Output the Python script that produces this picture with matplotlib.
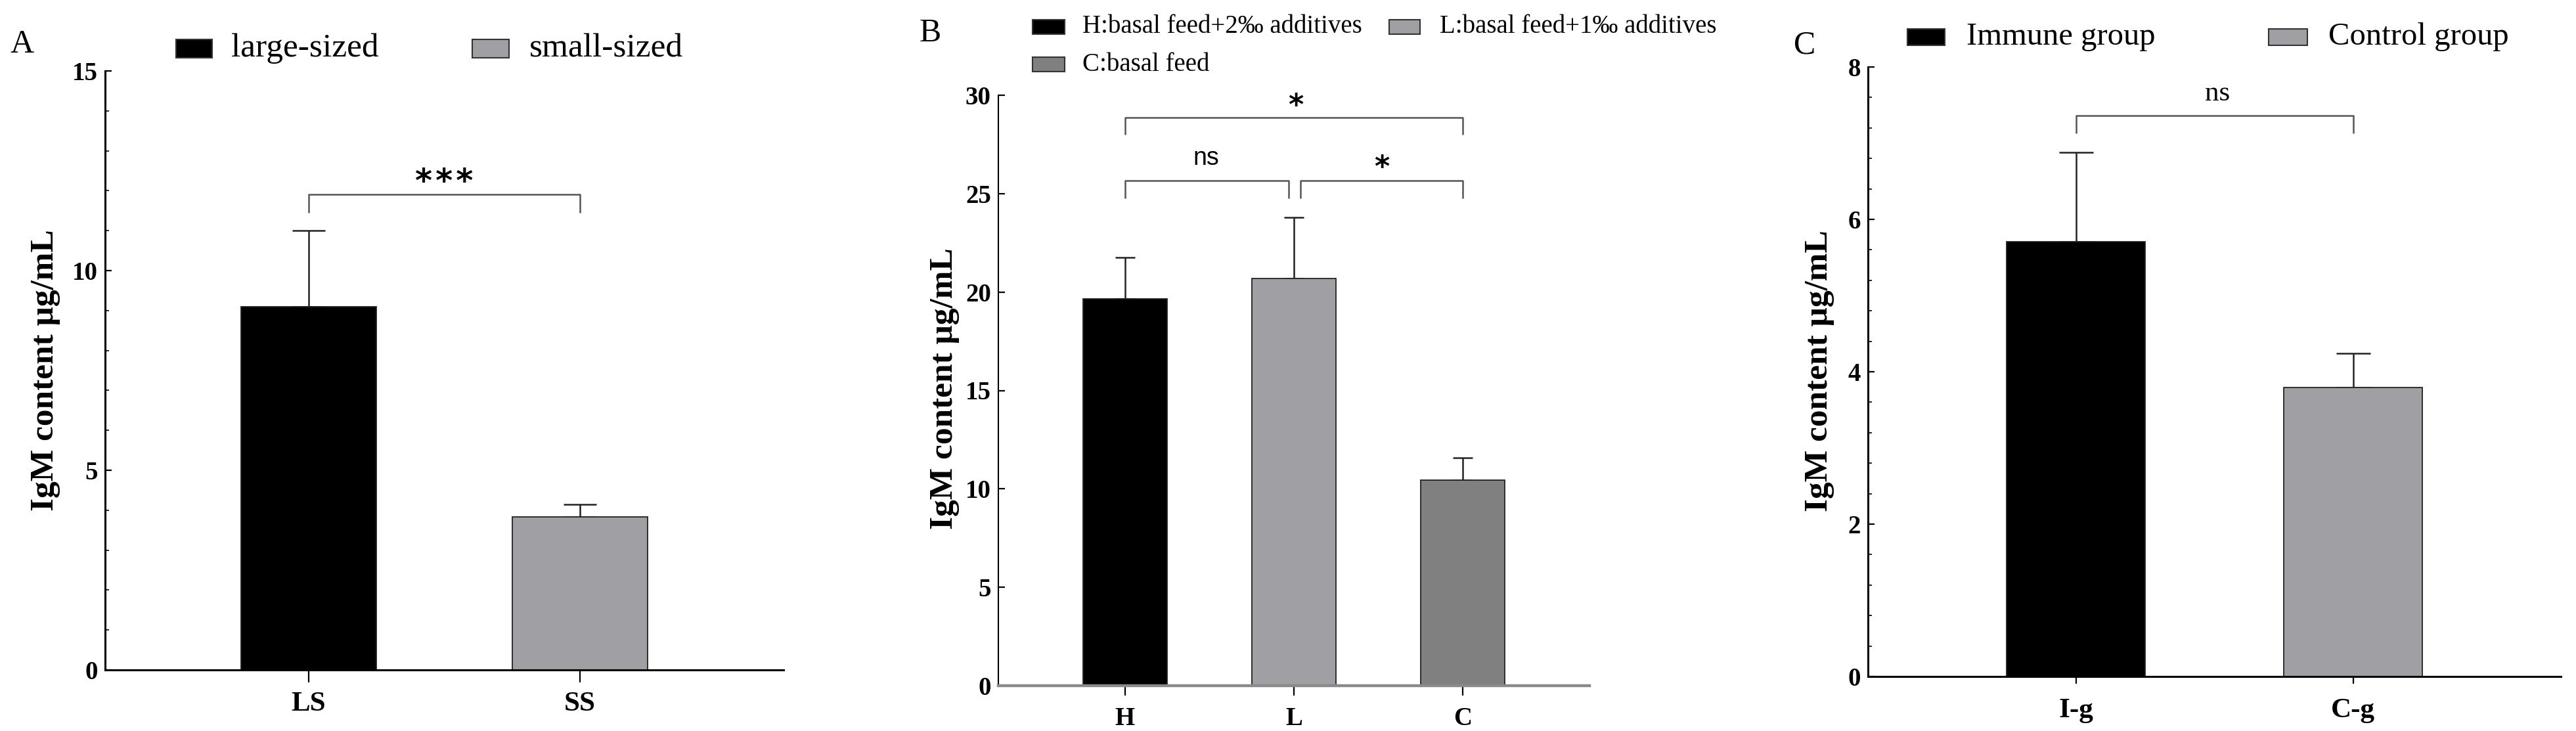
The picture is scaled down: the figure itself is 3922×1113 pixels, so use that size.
import matplotlib
matplotlib.use("Agg")
import matplotlib.pyplot as plt
from matplotlib.patches import Rectangle
from matplotlib.ticker import MultipleLocator

# panel A
cats_a = ["LS", "SS"]
mean_a = [9.10, 3.83]
err_a = [1.90, 0.32]
legend_a = ["large-sized", "small-sized"]

# panel B
cats_b = ["H", "L", "C"]
mean_b = [19.66, 20.70, 10.46]
err_b = [2.10, 3.08, 1.13]
legend_b = ["H:basal feed+2\u2030 additives", "L:basal feed+1\u2030 additives", "C:basal feed"]

# panel C
cats_c = ["I-g", "C-g"]
mean_c = [5.71, 3.79]
err_c = [1.17, 0.45]
legend_c = ["Immune group", "Control group"]

ylabel = "IgM content \u03bcg/mL"
SERIF = "Liberation Serif"
W, H = 3922, 1113

plt.rcParams["font.family"] = [SERIF, "DejaVu Serif"]

fig = plt.figure(figsize=(W / 100, H / 100), dpi=100)


def fx(px):
    return px / W


def fy(py):
    return 1 - py / H


def make_ax(l, r, b, t):
    return fig.add_axes([fx(l), fy(b), fx(r) - fx(l), fy(t) - fy(b)])


def style(ax, ymax, major, minor, xcol="black", xlw=2.2, ylw=2.2, xtl=14, ticksize=28):
    for s in ["top", "right"]:
        ax.spines[s].set_visible(False)
    ax.spines["left"].set_linewidth(ylw)
    ax.spines["bottom"].set_linewidth(xlw)
    ax.spines["bottom"].set_color(xcol)
    ax.set_ylim(0, ymax)
    ax.yaxis.set_major_locator(MultipleLocator(major))
    if minor:
        ax.yaxis.set_minor_locator(MultipleLocator(minor))
    ax.tick_params(axis="y", direction="in", length=7, width=1.6, pad=8,
                   labelsize=ticksize)
    ax.tick_params(axis="y", which="minor", direction="in", length=4, width=1.2)
    ax.tick_params(axis="x", direction="out", length=xtl, width=1.6, pad=10,
                   labelsize=31)
    for lab in ax.get_yticklabels() + ax.get_xticklabels():
        lab.set_fontweight("bold")


def bars(ax, means, errs, colors, width=0.5, capsize=18, elw=1.8):
    x = list(range(len(means)))
    ax.errorbar(x, means, yerr=[[0] * len(means), errs], fmt="none",
                ecolor="#222222", elinewidth=elw, capsize=capsize,
                capthick=elw, zorder=1)
    ax.bar(x, means, width=width, color=colors, edgecolor="#222222",
           linewidth=1.3, zorder=2)
    return x


def bracket(ax, x0, x1, y, drop, color="#555555"):
    ax.plot([x0, x0, x1, x1], [y - drop, y, y, y - drop], color=color,
            lw=1.8, solid_capstyle="butt", zorder=3)


def legend_item(px, py0, py1, color, label, tx, size):
    fig.patches.append(Rectangle((fx(px[0]), fy(py1)), fx(px[1]) - fx(px[0]),
                                 fy(py0) - fy(py1), transform=fig.transFigure,
                                 facecolor=color, edgecolor="#333333", lw=1.5))
    fig.text(fx(tx), fy((py0 + py1) / 2), label, fontsize=size, va="center",
             ha="left")


# ---------------- Panel A ----------------
ax1 = make_ax(160, 1193, 1020, 108)
x = bars(ax1, mean_a, err_a, ["black", "#a0a0a4"], capsize=18)
ax1.set_xlim(-0.75, 1.75)
ax1.set_xticks(x)
ax1.set_xticklabels(cats_a)
style(ax1, 15, 5, 1, xtl=14)
bracket(ax1, 0, 1, 11.9, 0.45)
ax1.text(0.5, 12.2, "*\u200a*\u200a*", ha="center", va="center", fontsize=36,
         fontweight="bold", family="DejaVu Sans")
fig.text(fx(69), fy(564), ylabel, rotation=90, ha="center", va="center",
         fontsize=37, fontweight="bold")
fig.text(fx(15), fy(80), "A", fontsize=36, ha="left", va="baseline")
legend_item((268, 323), 60, 88, "black", legend_a[0], 352, 37)
legend_item((719, 775), 60, 88, "#a0a0a4", legend_a[1], 806, 37)

# ---------------- Panel B ----------------
ax2 = make_ax(1520, 2420, 1044, 145)
x = bars(ax2, mean_b, err_b, ["black", "#a0a0a4", "#808080"], capsize=11)
ax2.set_xlim(-0.75, 2.75)
ax2.set_xticks(x)
ax2.set_xticklabels(cats_b)
style(ax2, 30, 5, None, xcol="#8a8a8a", xlw=3.2, ylw=1.5, xtl=11, ticksize=28)
ax2.tick_params(axis="x", labelsize=28, pad=12)
bracket(ax2, 0, 2, 28.85, 0.85)
bracket(ax2, 0, 0.97, 25.65, 0.9)
bracket(ax2, 1.04, 2, 25.65, 0.9)
ax2.text(1.01, 29.45, "*", ha="center", va="center", fontsize=32,
         fontweight="bold", family="DejaVu Sans")
ax2.text(0.48, 26.8, "ns", ha="center", va="center", fontsize=27,
         family="Liberation Sans")
ax2.text(1.52, 26.3, "*", ha="center", va="center", fontsize=32,
         fontweight="bold", family="DejaVu Sans")
fig.text(fx(1438), fy(592), ylabel, rotation=90, ha="center", va="center",
         fontsize=37, fontweight="bold")
fig.text(fx(1400), fy(63), "B", fontsize=36, ha="left", va="baseline")
legend_item((1572, 1621), 30, 52, "black", legend_b[0], 1648, 28)
legend_item((2115, 2162), 30, 52, "#a0a0a4", legend_b[1], 2192, 28)
legend_item((1572, 1621), 87, 109, "#808080", legend_b[2], 1648, 28)

# ---------------- Panel C ----------------
ax3 = make_ax(2844, 3899, 1030, 102)
x = bars(ax3, mean_c, err_c, ["black", "#a0a0a4"], capsize=19)
ax3.set_xlim(-0.75, 1.75)
ax3.set_xticks(x)
ax3.set_xticklabels(cats_c)
style(ax3, 8, 2, 0.4, xtl=8)
ax3.tick_params(axis="x", pad=16)
bracket(ax3, 0, 1, 7.36, 0.23)
ax3.text(0.51, 7.65, "ns", ha="center", va="center", fontsize=31)
fig.text(fx(2770), fy(565), ylabel, rotation=90, ha="center", va="center",
         fontsize=37, fontweight="bold")
fig.text(fx(2731), fy(82), "C", fontsize=36, ha="left", va="baseline")
legend_item((2904, 2961), 44, 69, "black", legend_c[0], 2994, 35)
legend_item((3454, 3513), 44, 69, "#a0a0a4", legend_c[1], 3545, 35)

plt.savefig("out.png", dpi=100)
